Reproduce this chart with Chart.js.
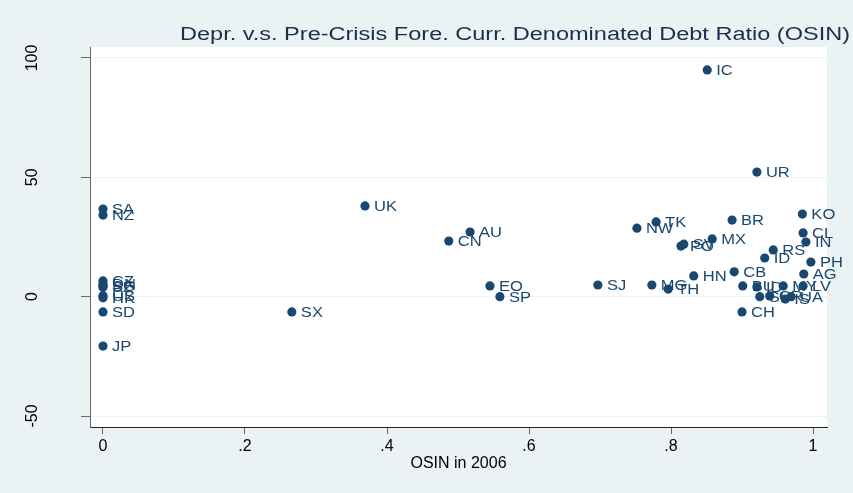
<!DOCTYPE html>
<html>
<head>
<meta charset="utf-8">
<title>Depr. v.s. OSIN</title>
<script src="https://cdn.jsdelivr.net/npm/chart.js@4"></script>
<style>
  body { margin: 0; background: #eaf2f3; }
  #wrap { width: 853px; height: 493px; }
</style>
</head>
<body>
<div id="wrap"><canvas id="scatterChart" width="853" height="493"></canvas></div>
<script>
// Country codes, OSIN in 2006 and depreciation
const codes = ["SA", "NZ", "CZ", "DN", "SG", "SZ", "US", "HK", "SD", "JP",
    "UK", "AU", "CN", "SX", "EO", "SP", "SJ",
    "IC", "UR", "NW", "TK", "BR", "KO", "CL", "IN", "MX", "SV", "PO",
    "RS", "ID", "PH", "AG", "CB", "HN", "MG", "TH",
    "BU", "ID", "MY", "LV", "SL", "CR", "IS", "UA", "CH"];
const osin = [0, 0, 0, 0, 0, 0, 0, 0, 0, 0,
    0.369, 0.517, 0.487, 0.266, 0.545, 0.559, 0.697,
    0.851, 0.921, 0.752, 0.779, 0.886, 0.985, 0.986, 0.990, 0.858, 0.818, 0.814,
    0.944, 0.932, 0.997, 0.987, 0.889, 0.832, 0.773, 0.796,
    0.901, 0.921, 0.958, 0.986, 0.925, 0.939, 0.961, 0.969, 0.900];
const depr = [36.7, 34.2, 6.6, 5.2, 4.6, 4.0, 0.4, -0.5, -6.4, -20.7,
    38.0, 27.1, 23.3, -6.4, 4.5, 0.0, 4.9,
    95.0, 52.2, 28.7, 31.3, 32.1, 34.6, 26.7, 22.9, 24.2, 22.0, 21.2,
    19.6, 16.2, 14.5, 9.5, 10.4, 8.7, 4.9, 3.2,
    4.5, 4.1, 4.5, 4.5, 0.0, 0.3, -1.0, 0.0, -6.4];

const xTicks = [0, 0.2, 0.4, 0.6, 0.8, 1];
const xTickLabels = ["0", ".2", ".4", ".6", ".8", "1"];
const yTicks = [-50, 0, 50, 100];
const yTickLabels = ["-50", "0", "50", "100"];

const NAVY = "#1a476f";
const FONT = "'Liberation Sans', Arial, sans-serif";

// grey page, white plot region
const backgroundPlugin = {
    id: "background",
    beforeDraw(chart) {
        const { ctx, chartArea: a } = chart;
        ctx.save();
        ctx.fillStyle = "#eaf2f3";
        ctx.fillRect(0, 0, chart.width, chart.height);
        ctx.fillStyle = "#ffffff";
        ctx.fillRect(a.left, a.top, a.right - a.left, a.bottom - a.top);
        ctx.restore();
    }
};

// title, rotated y tick labels and marker labels
const textPlugin = {
    id: "texts",
    afterDraw(chart) {
        const ctx = chart.ctx;
        ctx.save();

        // title (Stata text is a bit wider than Liberation Sans)
        const title = "Depr. v.s. Pre-Crisis Fore. Curr. Denominated Debt Ratio (OSIN)";
        ctx.font = "18px " + FONT;
        ctx.fillStyle = "#1c2d4d";
        ctx.textBaseline = "middle";
        ctx.textAlign = "left";
        const w = ctx.measureText(title).width;
        ctx.save();
        ctx.translate(180, 35);
        ctx.scale(670 / w, 1);
        ctx.fillText(title, 0, 0);
        ctx.restore();

        // y tick labels, reading bottom to top
        const yScale = chart.scales.y;
        ctx.font = "16px " + FONT;
        ctx.fillStyle = "#000";
        ctx.textAlign = "center";
        yTicks.forEach((v, i) => {
            ctx.save();
            ctx.translate(33, yScale.getPixelForValue(v));
            ctx.rotate(-Math.PI / 2);
            ctx.fillText(yTickLabels[i], 0, 0);
            ctx.restore();
        });

        // country labels to the right of each marker
        const meta = chart.getDatasetMeta(0);
        ctx.font = "14px " + FONT;
        ctx.fillStyle = NAVY;
        ctx.textAlign = "left";
        meta.data.forEach((pt, i) => {
            ctx.save();
            ctx.translate(pt.x + 9, pt.y + 1);
            ctx.scale(1.18, 1);
            ctx.fillText(codes[i], 0, 0);
            ctx.restore();
        });

        ctx.restore();
    }
};

const ctx = document.getElementById("scatterChart").getContext("2d");

const scatterChart = new Chart(ctx, {
    type: "scatter",
    data: {
        datasets: [{
            data: codes.map((c, i) => ({ x: osin[i], y: depr[i] })),
            backgroundColor: NAVY,
            borderColor: NAVY,
            borderWidth: 0,
            pointRadius: 4.6,
            pointHoverRadius: 4.6
        }]
    },
    options: {
        responsive: false,
        animation: false,
        events: [],
        layout: { padding: { top: 47, right: 26, left: 0, bottom: 0 } },
        plugins: {
            legend: { display: false },
            tooltip: { enabled: false }
        },
        scales: {
            x: {
                type: "linear",
                min: -0.0183,
                max: 1.0197,
                afterBuildTicks: s => { s.ticks = xTicks.map(v => ({ value: v })); },
                afterFit: s => { s.height = 66; },
                grid: { drawOnChartArea: false, tickLength: 7, tickColor: "#666" },
                border: { color: "#222", width: 1 },
                ticks: {
                    font: { family: FONT, size: 16 },
                    color: "#000",
                    padding: 3,
                    maxRotation: 0,
                    callback: v => xTickLabels[xTicks.indexOf(v)] ?? ""
                },
                title: {
                    display: true,
                    text: "OSIN in 2006",
                    font: { family: FONT, size: 16 },
                    color: "#000",
                    padding: { top: 0, bottom: 20 }
                }
            },
            y: {
                type: "linear",
                min: -54.6,
                max: 104.6,
                afterBuildTicks: s => { s.ticks = yTicks.map(v => ({ value: v })); },
                afterFit: s => { s.width = 90; },
                grid: { color: "#eaf2f3", lineWidth: 1, tickLength: 9, tickColor: "#666" },
                border: { color: "#666", width: 1 },
                ticks: { display: false }
            }
        }
    },
    plugins: [backgroundPlugin, textPlugin]
});
</script>
</body>
</html>
